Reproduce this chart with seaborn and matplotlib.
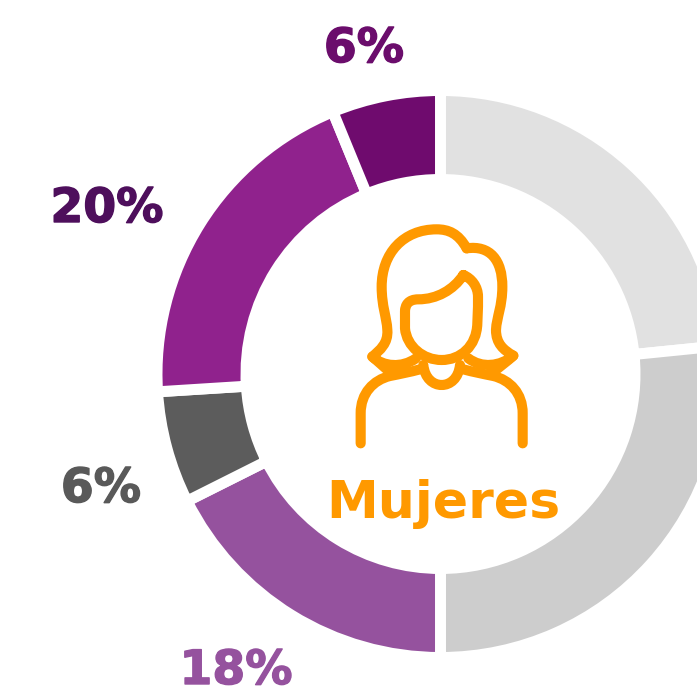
import matplotlib
matplotlib.use('Agg')
import matplotlib.pyplot as plt
import matplotlib.patheffects as pe
from matplotlib.patches import PathPatch
from matplotlib.path import Path
import seaborn as sns

sns.set_theme(style="white")
plt.rcParams['font.family'] = ['DejaVu Sans']

# valores, em sentido horario a partir do topo
categorias = ['gris claro', 'gris', 'morado claro', 'gris oscuro', 'morado', 'morado oscuro']
valores = [23.4, 26.6, 17.6, 6.4, 19.8, 6.2]
colores = ['#e1e1e1', '#cdcdcd', '#95529e', '#5c5c5c', '#90228d', '#6f0b6e']
etiquetas = ['', '', '18%', '6%', '20%', '6%']
colores_etiqueta = ['#000000', '#000000', '#95529e', '#595959', '#4e0f5c', '#6b0d6c']
naranja = '#ff9900'

W, H = 697, 691
fig = plt.figure(figsize=(W / 100, H / 100), dpi=100)
ax = fig.add_axes([0, 0, 1, 1])

# o traco branco come 5.5px de cada lado, por isso o raio e maior
paleta = sns.color_palette(colores)
wedges, _ = ax.pie(valores, colors=paleta, startangle=90, counterclock=False,
                   center=(440.5, H - 374), radius=283.5,
                   wedgeprops=dict(width=89, edgecolor='white', linewidth=7.9))
ax.set_xlim(0, W)
ax.set_ylim(0, H)
ax.set_aspect('equal')
ax.axis('off')

# posicao das etiquetas em pixels da imagem (centro x, linha de base)
pos_etiquetas = {2: (236, 684), 3: (101, 502), 4: (107, 222), 5: (364, 62)}
for i, (x, y) in pos_etiquetas.items():
    ax.text(x, H - y, etiquetas[i], color=colores_etiqueta[i], fontsize=34,
            fontweight='bold', ha='center', va='baseline',
            path_effects=[pe.withStroke(linewidth=1.0, foreground=colores_etiqueta[i])])

ax.text(443.5, H - 518, 'Mujeres', color=naranja, fontsize=37.5, fontweight='bold',
        ha='center', va='baseline')


# icone: coordenadas do recorte ampliado 3x (origem em 340,210)
def trazo(puntos):
    verts = [(340 + x / 3, H - (210 + y / 3)) for x, y in puntos]
    codes = [Path.MOVETO] + [Path.CURVE4] * (len(verts) - 1)
    patch = PathPatch(Path(verts, codes), fill=False, edgecolor=naranja, linewidth=7.3,
                      capstyle='round', joinstyle='round')
    ax.add_patch(patch)


# cabelo esquerdo e topo
trazo([(380, 115), (355, 70), (325, 58), (290, 58),
       (190, 58), (125, 130), (125, 230),
       (125, 290), (140, 320), (142, 360),
       (145, 400), (120, 420), (97, 440),
       (130, 470), (185, 475), (228, 445)])
# cabelo direito
trazo([(380, 115), (450, 105), (487, 150), (487, 230),
       (487, 290), (470, 320), (468, 360),
       (468, 400), (490, 420), (520, 437),
       (480, 470), (425, 475), (385, 445)])
# rosto
trazo([(370, 195), (340, 240), (290, 268), (235, 268),
       (205, 268), (195, 285), (195, 305),
       (195, 330), (195, 340), (195, 355),
       (200, 410), (250, 450), (305, 450),
       (360, 450), (410, 410), (412, 340),
       (414, 300), (414, 280), (414, 260),
       (414, 230), (395, 205), (370, 195)])
# ombros
trazo([(62, 700), (62, 670), (62, 640), (62, 610),
       (62, 550), (100, 510), (150, 498),
       (180, 492), (210, 486), (240, 478)])
trazo([(548, 700), (548, 670), (548, 640), (548, 610),
       (548, 550), (510, 510), (460, 498),
       (430, 492), (400, 486), (370, 478)])
# gola e pontas do cabelo
trazo([(250, 465), (258, 545), (352, 545), (360, 465)])
trazo([(97, 440), (115, 455), (130, 470), (155, 490)])
trazo([(520, 437), (500, 455), (480, 470), (455, 490)])

fig.savefig('out.png', dpi=100)
